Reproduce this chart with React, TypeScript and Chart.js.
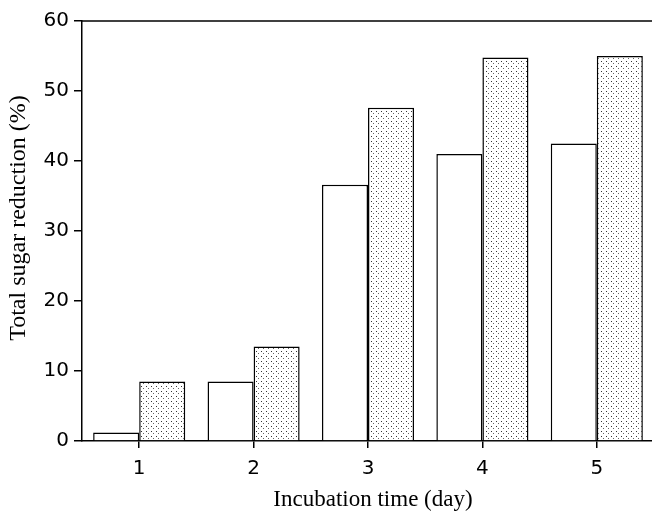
import React, { useEffect, useRef } from "react";
import { Chart, registerables } from "chart.js";

Chart.register(...registerables);

const categories = ["1", "2", "3", "4", "5"];
const plainValues = [1.2, 8.5, 36.6, 41.0, 42.5];
const dottedValues = [8.5, 13.5, 47.6, 54.8, 55.0];
const yTicks = [0, 10, 20, 30, 40, 50, 60];
const yTitle = "Total sugar reduction (%)";
const xTitle = "Incubation time (day)";

function makeDotPattern(): CanvasPattern | string {
  const c = document.createElement("canvas");
  c.width = 5;
  c.height = 5;
  const g = c.getContext("2d");
  if (!g) return "#ddd";
  g.fillStyle = "#ffffff";
  g.fillRect(0, 0, 5, 5);
  g.fillStyle = "#333333";
  g.fillRect(1, 1, 1, 1);
  g.fillStyle = "#666666";
  g.fillRect(3, 3, 1, 1);
  const p = g.createPattern(c, "repeat");
  return p || "#ddd";
}

export default function App() {
  const ref = useRef<HTMLCanvasElement | null>(null);
  useEffect(() => {
    if (!ref.current) return;
    const extras = {
      id: "extras",
      afterDraw(chart: any) {
        const { ctx, chartArea } = chart;
        ctx.save();
        ctx.strokeStyle = "#000";
        ctx.lineWidth = 1.5;
        ctx.beginPath();
        ctx.moveTo(chartArea.left, chartArea.top);
        ctx.lineTo(chartArea.right, chartArea.top);
        ctx.stroke();
        ctx.fillStyle = "#000";
        ctx.font = "23px 'Liberation Serif'";
        ctx.textAlign = "center";
        ctx.textBaseline = "alphabetic";
        ctx.fillText(xTitle, 373, 506);
        ctx.translate(19, 218);
        ctx.rotate(-Math.PI / 2);
        ctx.font = "24px 'Liberation Serif'";
        ctx.textBaseline = "middle";
        ctx.fillText(yTitle, 0, 0);
        ctx.restore();
      },
    };
    const chart = new Chart(ref.current, {
      type: "bar",
      data: {
        labels: categories,
        datasets: [
          {
            data: plainValues,
            backgroundColor: "#ffffff",
            borderColor: "#000",
            borderWidth: 1.5,
          },
          {
            data: dottedValues,
            backgroundColor: makeDotPattern() as any,
            borderColor: "#000",
            borderWidth: 1.5,
          },
        ],
      },
      options: {
        animation: false,
        responsive: false,
        maintainAspectRatio: false,
        layout: { padding: { top: 21, right: 2, left: 0, bottom: 0 } },
        plugins: { legend: { display: false }, tooltip: { enabled: false } },
        datasets: { bar: { categoryPercentage: 0.805, barPercentage: 1.0 } },
        scales: {
          x: {
            grid: { display: true, drawOnChartArea: false, drawTicks: true, tickLength: 7, offset: false, color: "#000", lineWidth: 1.5 },
            border: { display: true, color: "#000", width: 1.5 },
            ticks: { color: "#000", font: { family: "DejaVu Sans", size: 20, weight: "normal" }, padding: 9 },
            afterFit(scale: any) {
              scale.height = 70;
            },
          },
          y: {
            min: 0,
            max: 60,
            afterBuildTicks(scale: any) {
              scale.ticks = yTicks.map((v) => ({ value: v }));
            },
            grid: { display: true, drawOnChartArea: false, drawTicks: true, tickLength: 8, color: "#000", lineWidth: 1.5 },
            border: { display: true, color: "#000", width: 1.5 },
            ticks: { color: "#000", font: { family: "DejaVu Sans", size: 20, weight: "normal" }, padding: 5 },
            afterFit(scale: any) {
              scale.width = 82;
            },
          },
        },
      },
      plugins: [extras],
    });
    return () => chart.destroy();
  }, []);
  return (
    <div style={{ position: "fixed", left: 0, top: 0, width: 652, height: 511, overflow: "hidden", background: "#fff" }}>
      <canvas ref={ref} width={656} height={511} style={{ display: "block" }} />
    </div>
  );
}
